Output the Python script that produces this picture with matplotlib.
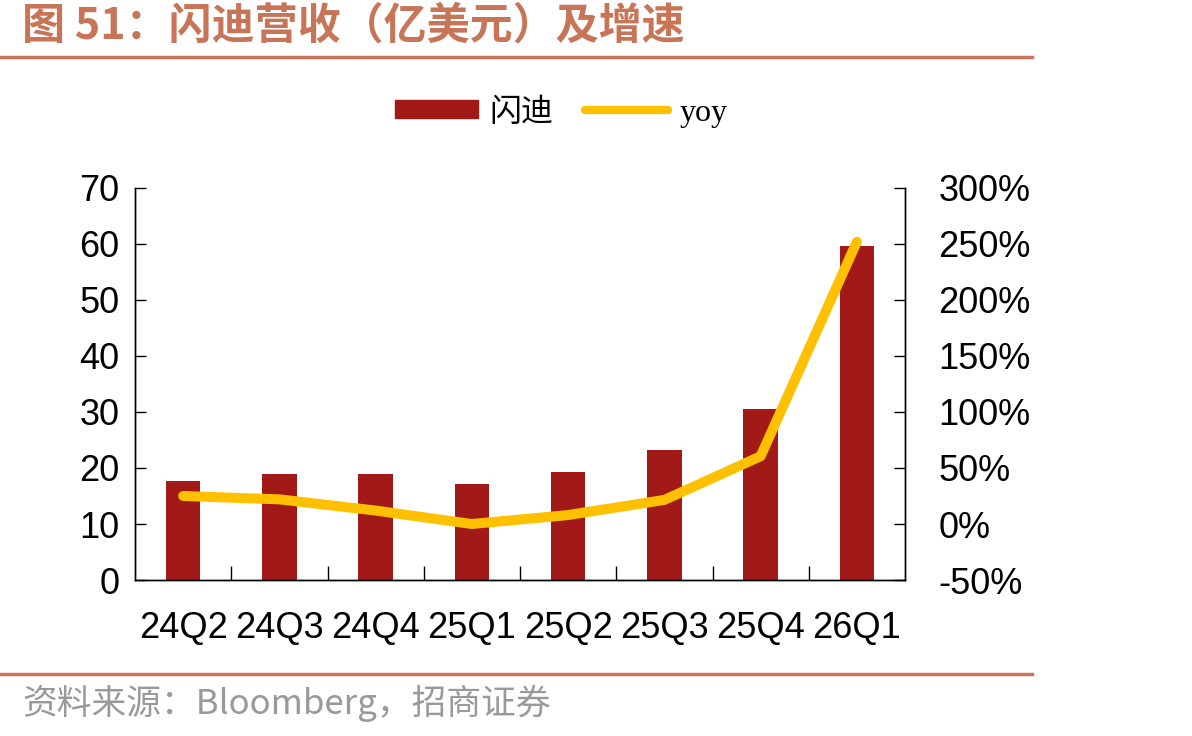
import matplotlib
matplotlib.use("Agg")
import matplotlib.pyplot as plt
import numpy as np
from matplotlib.patches import Patch
from matplotlib.lines import Line2D

categories = ["24Q2", "24Q3", "24Q4", "25Q1", "25Q2", "25Q3", "25Q4", "26Q1"]
revenue = [17.7, 19.0, 19.0, 17.2, 19.2, 23.3, 30.5, 59.7]
yoy = [25, 22, 12, 0, 8, 21.5, 60.5, 252]
left_ticks = [0, 10, 20, 30, 40, 50, 60, 70]
right_ticks = [-50, 0, 50, 100, 150, 200, 250, 300]

bar_color = "#A21A17"
line_color = "#FFC000"
accent = "#C87456"

fig = plt.figure(figsize=(11.92, 7.36), dpi=100)
ax = fig.add_axes([135/1192, 1-580/736, (905-135)/1192, (580-188)/736])
ax2 = ax.twinx()

x = np.arange(len(categories))
ax.bar(x, revenue, width=0.36, color=bar_color, zorder=2)
ax2.plot(x, yoy, color=line_color, lw=7.2, solid_capstyle="round", solid_joinstyle="round", zorder=3)

ax.set_xlim(-0.5, len(categories) - 0.5)
ax.set_ylim(0, 70)
ax.set_yticks(left_ticks)
ax2.set_ylim(-50, 300)
ax2.set_yticks(right_ticks)
ax2.set_yticklabels([f"{v}%" for v in right_ticks])

ax.set_xticks(x)
ax.set_xticklabels(categories)
ax.set_xticks(np.arange(0.5, len(categories) - 1, 1), minor=True)
ax.tick_params(axis="x", which="major", length=0, pad=22)
ax.tick_params(axis="x", which="minor", direction="in", length=10, width=1)

fam = ["Liberation Sans", "Noto Sans CJK SC"]
for lab in ax.get_xticklabels() + ax.get_yticklabels() + ax2.get_yticklabels():
    lab.set_fontfamily(fam)
    lab.set_fontsize(26)

ax.tick_params(axis="y", direction="in", length=8, width=1, pad=11)
ax2.tick_params(axis="y", direction="in", length=8, width=1, pad=24)

for a in (ax, ax2):
    a.spines["top"].set_visible(False)
    for s in ("left", "right", "bottom"):
        a.spines[s].set_linewidth(1)
        a.spines[s].set_color("black")

# Title and rules
fig.text(22/1192, 1-26/736, "图 51：闪迪营收（亿美元）及增速", color=accent,
         fontsize=31, fontweight="bold", family=["Noto Sans CJK SC", "DejaVu Sans"],
         ha="left", va="center")
fig.add_artist(Line2D([0, 1032/1192], [1-57/736, 1-57/736], color=accent, lw=2.5, transform=fig.transFigure))
fig.add_artist(Line2D([0, 1032/1192], [1-674/736, 1-674/736], color=accent, lw=2.5, transform=fig.transFigure))
fig.text(22/1192, 1-703/736, "资料来源：Bloomberg，招商证券", color="#999999",
         fontsize=25, family=["Noto Sans CJK SC", "DejaVu Sans"], ha="left", va="center")

handles = [Patch(facecolor=bar_color, edgecolor=bar_color),
           Line2D([0], [0], color=line_color, lw=6, solid_capstyle="round")]
fig.legend(handles, ["闪迪", "yoy"], loc="center", bbox_to_anchor=(561/1192, 1-113/736),
           ncol=2, frameon=False, handlelength=2.6, handleheight=0.5, handletextpad=0.35,
           columnspacing=1.0, prop={"family": ["Liberation Serif", "Noto Sans CJK SC"], "size": 23})

fig.savefig("out.png", dpi=100)
